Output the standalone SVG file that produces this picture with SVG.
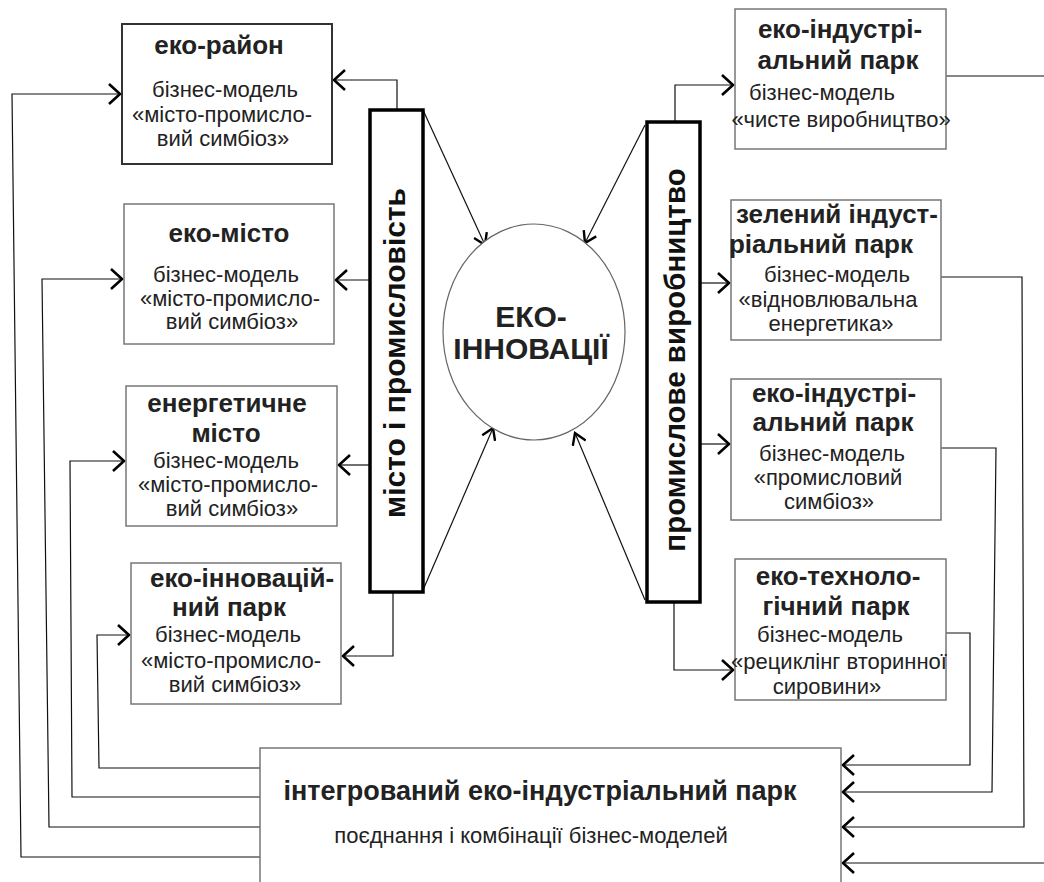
<svg xmlns="http://www.w3.org/2000/svg" width="1044" height="882" viewBox="0 0 1044 882">
<style>
.box{fill:#fff;stroke:#777;stroke-width:1.5}
.box1{fill:#fff;stroke:#333;stroke-width:2}
.bar{fill:#fff;stroke:#000;stroke-width:3.5}
.t{font-family:"Liberation Sans",Arial,sans-serif;font-weight:bold;font-size:26px;fill:#222;text-anchor:middle}
.r{font-family:"Liberation Sans",Arial,sans-serif;font-size:22px;fill:#222;text-anchor:middle}
.bt{font-family:"Liberation Sans",Arial,sans-serif;font-weight:bold;font-size:29.5px;fill:#111;text-anchor:middle}
.c{fill:none;stroke:#111;stroke-width:1.2}
</style>
<defs>
<marker id="a" viewBox="0 0 14 22" refX="12" refY="11" markerWidth="14" markerHeight="22" markerUnits="userSpaceOnUse" orient="auto">
<path d="M1,1 L12,11 L1,21" fill="none" stroke="#000" stroke-width="2.6"/>
</marker>
<marker id="s" viewBox="0 0 14 16" refX="12" refY="8" markerWidth="14" markerHeight="16" markerUnits="userSpaceOnUse" orient="auto">
<path d="M1,1 L12,8 L1,15" fill="none" stroke="#000" stroke-width="2.4"/>
</marker>
</defs>

<g id="connectors">
<polyline class="c" points="260,857 21,857 12,94 120,94" marker-end="url(#a)"/>
<polyline class="c" points="260,827 49,827 42,279 122,279" marker-end="url(#a)"/>
<polyline class="c" points="260,797 72,797 70,461 124,461" marker-end="url(#a)"/>
<polyline class="c" points="260,768 99,768 97,635 129,635" marker-end="url(#a)"/>
<polyline class="c" points="946,76 1050,76 1050,863 843,863" marker-end="url(#a)"/>
<polyline class="c" points="941,277 1022,277 1024,827 843,827" marker-end="url(#a)"/>
<polyline class="c" points="941,448 996,448 992,792 843,792" marker-end="url(#a)"/>
<polyline class="c" points="946,633 970,633 970,765 843,765" marker-end="url(#a)"/>
<polyline class="c" points="397,110 397,80 334,80" marker-end="url(#a)"/>
<polyline class="c" points="370,280 336,280" marker-end="url(#a)"/>
<polyline class="c" points="370,465 339,465" marker-end="url(#a)"/>
<polyline class="c" points="393,592 393,656 343,656" marker-end="url(#a)"/>
<polyline class="c" points="675,122 675,85 733,85" marker-end="url(#a)"/>
<polyline class="c" points="700,283 729,283" marker-end="url(#a)"/>
<polyline class="c" points="700,444 729,444" marker-end="url(#a)"/>
<polyline class="c" points="674,602 674,670 733,670" marker-end="url(#a)"/>
<line class="c" x1="423" y1="110" x2="485" y2="245" marker-end="url(#s)"/>
<line class="c" x1="423" y1="590" x2="493" y2="428" marker-end="url(#s)"/>
<line class="c" x1="645" y1="125" x2="585" y2="243" marker-end="url(#s)"/>
<line class="c" x1="645" y1="600" x2="575" y2="433" marker-end="url(#s)"/>
</g>

<g id="bar-left">
<rect class="bar" x="370" y="110" width="53" height="482"/>
<text class="bt" style="font-size:30px" transform="translate(405,353) rotate(-90)">місто і промисловість</text>
</g>
<g id="bar-right">
<rect class="bar" x="647" y="122" width="53" height="480"/>
<text class="bt" transform="translate(685,360) rotate(-90)">промислове виробництво</text>
</g>

<g id="eco-innovations">
<ellipse cx="534" cy="332" rx="91" ry="108" fill="#fff" stroke="#666" stroke-width="1.2"/>
<text class="t" style="font-size:30px" x="531" y="327">ЕКО-</text>
<text class="t" style="font-size:30px" x="531" y="359">ІННОВАЦІЇ</text>
</g>

<g id="eco-district">
<rect class="box1" x="122" y="24" width="210" height="140"/>
<text class="t" x="219" y="54">еко-район</text>
<text class="r" x="225" y="97">бізнес-модель</text>
<text class="r" x="222" y="122">«місто-промисло-</text>
<text class="r" x="223" y="146">вий симбіоз»</text>
</g>

<g id="eco-city">
<rect class="box" x="124" y="204" width="210" height="140"/>
<text class="t" x="229" y="242">еко-місто</text>
<text class="r" x="226" y="282">бізнес-модель</text>
<text class="r" x="230" y="306">«місто-промисло-</text>
<text class="r" x="232" y="329">вий симбіоз»</text>
</g>

<g id="energy-city">
<rect class="box" x="126" y="386" width="211" height="140"/>
<text class="t" x="227" y="412">енергетичне</text>
<text class="t" x="226" y="442">місто</text>
<text class="r" x="226" y="468">бізнес-модель</text>
<text class="r" x="228" y="492">«місто-промисло-</text>
<text class="r" x="232" y="516">вий симбіоз»</text>
</g>

<g id="eco-innovation-park">
<rect class="box" x="131" y="563" width="210" height="141"/>
<text class="t" x="242" y="587">еко-інновацій-</text>
<text class="t" x="229" y="616">ний парк</text>
<text class="r" x="228" y="642">бізнес-модель</text>
<text class="r" x="231" y="668">«місто-промисло-</text>
<text class="r" x="235" y="692">вий симбіоз»</text>
</g>

<g id="eco-industrial-park-1">
<rect class="box" x="735" y="9" width="211" height="140"/>
<text class="t" x="840" y="38">еко-індустрі-</text>
<text class="t" x="838" y="69">альний парк</text>
<text class="r" x="822" y="100">бізнес-модель</text>
<text class="r" x="841" y="127">«чисте виробництво»</text>
</g>

<g id="green-industrial-park">
<rect class="box" x="731" y="200" width="210" height="140"/>
<text class="t" x="837" y="223">зелений індуст-</text>
<text class="t" x="821" y="253">ріальний парк</text>
<text class="r" x="837" y="282">бізнес-модель</text>
<text class="r" x="828" y="307">«відновлювальна</text>
<text class="r" x="831" y="331">енергетика»</text>
</g>

<g id="eco-industrial-park-2">
<rect class="box" x="731" y="379" width="210" height="141"/>
<text class="t" x="834" y="402">еко-індустрі-</text>
<text class="t" x="833" y="431">альний парк</text>
<text class="r" x="832" y="461">бізнес-модель</text>
<text class="r" x="828" y="485">«промисловий</text>
<text class="r" x="829" y="509">симбіоз»</text>
</g>

<g id="eco-technology-park">
<rect class="box" x="735" y="559" width="211" height="141"/>
<text class="t" x="838" y="585">еко-техноло-</text>
<text class="t" x="836" y="615">гічний парк</text>
<text class="r" x="830" y="642">бізнес-модель</text>
<text class="r" x="839" y="669">«рециклінг вторинної</text>
<text class="r" x="827" y="694">сировини»</text>
</g>

<g id="integrated-park">
<rect class="box" x="260" y="748" width="581" height="150"/>
<text class="t" style="font-size:27px" x="540" y="800">інтегрований еко-індустріальний парк</text>
<text class="r" x="531" y="843">поєднання і комбінації бізнес-моделей</text>
</g>
</svg>
